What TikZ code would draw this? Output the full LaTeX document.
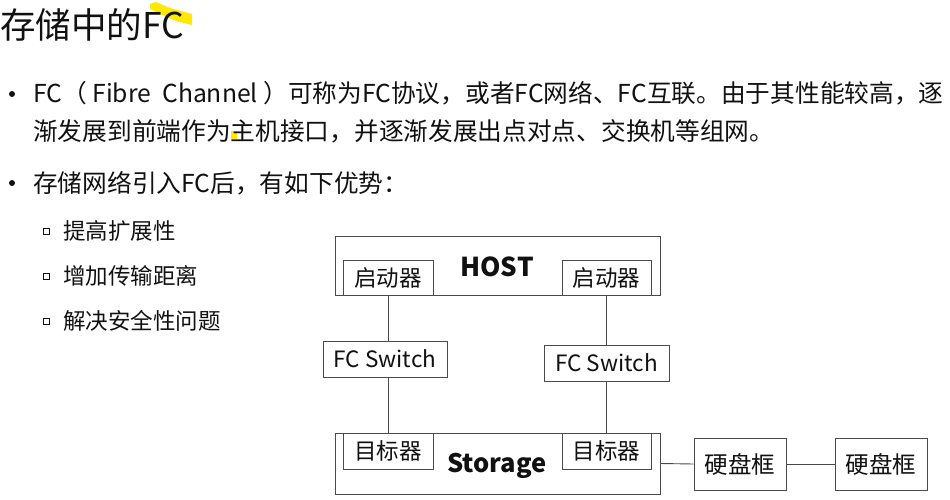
\documentclass[tikz,border=0pt]{standalone}
\usepackage{fontspec}
\setmainfont{Noto Sans CJK SC}
\definecolor{txt}{HTML}{111111}
\definecolor{linec}{HTML}{4A4A4A}
\definecolor{hl}{HTML}{FFE900}
\begin{document}
\begin{tikzpicture}[x=1pt,y=-1pt,
  every node/.style={inner sep=0, text=txt},
  box/.style={draw=linec, line width=0.9pt, fill=white, inner sep=0, font=\fontsize{22.5}{22.5}\selectfont},
  wire/.style={draw=linec, line width=0.9pt},
  para/.style={anchor=base west, font=\fontsize{24.7}{24.7}\selectfont},
  sub/.style={anchor=base west, font=\fontsize{22.5}{22.5}\selectfont},
  dot/.style={circle, fill=txt, minimum size=6pt},
  sq/.style={rectangle, draw=txt, line width=0.9pt, minimum size=6pt}
]
\useasboundingbox (0,0) rectangle (950,500);
% highlighter marks
\fill[hl] (150,4) -- (156,2) -- (170,8) -- (192,14) -- (192,25) -- (176,21) -- (160,14) -- (150,9) -- cycle;
\fill[hl] (231,131) rectangle (237,139);
% title
\node[anchor=base west, font=\fontsize{35.5}{35.5}\selectfont] (title) at (0,39) {存储中的FC};
% bullets
\node[dot] (b1) at (12,94) {};
\node[para] (l1) at (33,103) {FC（ Fibre\ \ Channel ）可称为FC协议，或者FC网络、FC互联。由于其性能较高，逐};
\node[para] (l2) at (33,141) {渐发展到前端作为主机接口，并逐渐发展出点对点、交换机等组网。};
\node[dot] (b2) at (12,183) {};
\node[para] (l3) at (33,192) {存储网络引入FC后，有如下优势：};
\node[sq] (s1) at (46,231) {};
\node[sub] (t1) at (63,239.5) {提高扩展性};
\node[sq] (s2) at (46,276) {};
\node[sub] (t2) at (63,284.5) {增加传输距离};
\node[sq] (s3) at (46,321) {};
\node[sub] (t3) at (63,329.5) {解决安全性问题};
% diagram
\node[box, minimum width=325pt, minimum height=59.5pt] (host) at (497.5,265.75) {};
\node[box, minimum width=90pt, minimum height=35.5pt] (initL) at (388,277.75) {启动器};
\node[box, minimum width=89pt, minimum height=35.5pt] (initR) at (606.5,277.75) {启动器};
\node[font=\fontsize{26}{26}\selectfont\bfseries] (hosttxt) at (497,267) {HOST};
\node[box, minimum width=124pt, minimum height=36pt] (swL) at (385,359) {FC Switch};
\node[box, minimum width=125pt, minimum height=36pt] (swR) at (606.5,363) {FC Switch};
\node[box, minimum width=325pt, minimum height=61pt] (stor) at (497.5,463.5) {};
\node[box, minimum width=90pt, minimum height=36pt] (tgtL) at (388,451) {目标器};
\node[box, minimum width=89pt, minimum height=36pt] (tgtR) at (606.5,451) {目标器};
\node[font=\fontsize{25.5}{25.5}\selectfont\bfseries] (stortxt) at (497,466) {Storage};
\node[box, font=\fontsize{23.5}{23.5}\selectfont, minimum width=92pt, minimum height=52pt] (d1) at (740,464) {硬盘框};
\node[box, font=\fontsize{23.5}{23.5}\selectfont, minimum width=92pt, minimum height=52pt] (d2) at (881,464) {硬盘框};
% connectors
\draw[wire] (initL.south) -- (initL.south |- swL.north);
\draw[wire] (tgtL.north |- swL.south) -- (tgtL.north);
\draw[wire] (initR.south) -- (initR.south |- swR.north);
\draw[wire] (tgtR.north |- swR.south) -- (tgtR.north);
\draw[wire] (stor.east) -- (d1.west);
\draw[wire] (d1.east) -- (d2.west);
\end{tikzpicture}
\end{document}
